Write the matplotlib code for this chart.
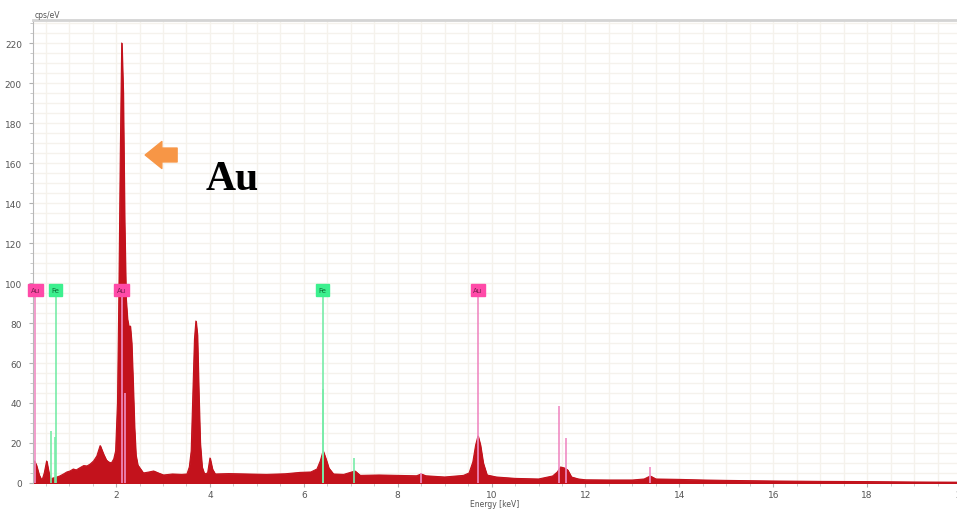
import matplotlib

matplotlib.use("Agg")
import matplotlib.pyplot as plt
from matplotlib.ticker import MultipleLocator

# EDS spectrum: energy (keV) vs intensity (cps/eV)
ENERGY = [0.23, 0.26, 0.30, 0.36, 0.42, 0.47, 0.52, 0.56, 0.60, 0.66, 0.74,
          0.80, 0.88, 0.95, 1.02, 1.09, 1.15, 1.22, 1.31, 1.38, 1.45, 1.52,
          1.59, 1.66, 1.73, 1.79, 1.84, 1.90, 1.95, 1.99, 2.03, 2.06, 2.09,
          2.12, 2.15, 2.18, 2.21, 2.24, 2.27, 2.30, 2.33, 2.36, 2.39, 2.42,
          2.46, 2.52, 2.58, 2.70, 2.80, 2.90, 3.01, 3.20, 3.40, 3.51, 3.56,
          3.60, 3.63, 3.67, 3.70, 3.73, 3.76, 3.79, 3.83, 3.88, 3.95, 4.00,
          4.05, 4.11, 4.40, 4.80, 5.20, 5.60, 5.92, 6.15, 6.28, 6.35, 6.41,
          6.47, 6.53, 6.63, 6.85, 7.02, 7.09, 7.20, 7.60, 8.00, 8.40, 8.50,
          8.60, 9.00, 9.40, 9.52, 9.60, 9.66, 9.71, 9.76, 9.82, 9.90, 10.10,
          10.50, 11.00, 11.30, 11.40, 11.47, 11.55, 11.62, 11.70, 11.85, 12.00,
          12.50, 13.00, 13.25, 13.38, 13.50, 14.00, 14.50, 15.00, 16.00, 17.00,
          18.00, 19.00, 20.00]
COUNTS = [10.5, 11.0, 9.0, 4.0, 1.2, 5.0, 11.0, 6.0, 2.0, 2.5, 3.0,
          3.5, 4.5, 5.5, 6.0, 7.0, 6.5, 7.5, 8.7, 8.5, 9.5, 11.0,
          13.5, 18.7, 14.5, 11.5, 10.5, 10.0, 12.0, 16.0, 40.0, 95.0, 165.0,
          220.0, 195.0, 130.0, 92.0, 82.0, 78.0, 78.5, 70.0, 50.0, 28.0, 14.0,
          9.0, 7.0, 5.0, 5.5, 6.0, 5.0, 4.0, 4.5, 4.3, 4.5, 8.0,
          16.0, 40.0, 72.0, 81.0, 74.0, 45.0, 20.0, 8.0, 4.5, 5.0, 12.5,
          7.0, 4.5, 4.7, 4.5, 4.3, 4.6, 5.3, 5.5, 7.0, 11.0, 16.0,
          12.0, 7.5, 4.5, 4.3, 5.5, 6.0, 3.8, 4.0, 3.8, 3.6, 4.5,
          3.6, 3.0, 3.8, 5.0, 10.5, 19.0, 23.5, 19.0, 10.0, 4.0, 3.0,
          2.3, 2.0, 3.5, 5.5, 8.0, 7.5, 6.5, 3.0, 2.0, 1.6,
          1.5, 1.5, 2.0, 3.5, 2.0, 1.8, 1.5, 1.3, 1.0, 0.8,
          0.7, 0.5, 0.4]

# element marker lines (keV, top in cps/eV, element)
LABEL_E = [0.28, 0.71, 2.12, 6.40, 9.71]
LABEL_EL = ["Au", "Fe", "Au", "Fe", "Au"]
LABEL_TOP = 93.5
MINOR_E = [0.62, 0.70, 2.20, 6.40, 7.06, 8.50, 11.44, 11.58, 13.38]
MINOR_TOP = [26, 23, 45, 47, 12.5, 5, 38.5, 22.5, 8]
MINOR_EL = ["Fe", "Fe", "Au", "Fe", "Fe", "Au", "Au", "Au", "Au"]

RED = "#c3121c"
PINK_BOX = "#ff4aa8"
PINK_LINE = "#f08cc4"
GREEN_BOX = "#3cf08e"
GREEN_LINE = "#78eca8"
ORANGE = "#f79646"
GRID = "#f5f2ec"
TXT = "#555555"

fig = plt.figure(figsize=(9.57, 5.10), dpi=100)
ax = fig.add_axes([33 / 957, 26 / 510, 928 / 957, 463 / 510])
ax.set_xlim(0.23, 20)
ax.set_ylim(0, 231.5)

ax.xaxis.set_major_locator(MultipleLocator(2))
ax.xaxis.set_minor_locator(MultipleLocator(0.5))
ax.yaxis.set_major_locator(MultipleLocator(20))
ax.yaxis.set_minor_locator(MultipleLocator(5))
ax.grid(which="both", color=GRID, lw=1.0, zorder=0)
ax.set_axisbelow(True)

ax.fill_between(ENERGY, COUNTS, 0, color=RED, lw=0.8, zorder=2)
ax.plot(ENERGY, COUNTS, color=RED, lw=0.8, zorder=2)

colors = {"Au": (PINK_BOX, PINK_LINE, "#7a1f4f"), "Fe": (GREEN_BOX, GREEN_LINE, "#0b6b35")}
for e, top, el in zip(MINOR_E, MINOR_TOP, MINOR_EL):
    ax.vlines(e, 0, top, color=colors[el][1], lw=1.2, zorder=3)
for e, el in zip(LABEL_E, LABEL_EL):
    box, line, tc = colors[el]
    ax.vlines(e, 0, LABEL_TOP, color=line, lw=1.2, zorder=3)
    ax.text(e, 96.5, el, ha="center", va="center", fontsize=5, color=tc, zorder=4,
            bbox=dict(boxstyle="square,pad=0.4", fc=box, ec=box))

# orange arrow + annotation
ax.annotate("", xy=(2.62, 164), xytext=(3.30, 164),
            arrowprops=dict(arrowstyle="simple,head_length=0.6,head_width=0.97,tail_width=0.5",
                            color=ORANGE, shrinkA=0, shrinkB=0, mutation_scale=20), zorder=5)
ax.text(4.47, 147, "Au", ha="center", va="baseline", fontsize=30, fontweight="bold",
        family="Liberation Serif", color="black", zorder=5)

for s in ["right", "bottom"]:
    ax.spines[s].set_visible(False)
ax.spines["top"].set_color("#d4d4d4")
ax.spines["top"].set_linewidth(2)
ax.spines["left"].set_color("#b8b8b8")
ax.tick_params(axis="both", which="major", labelsize=6.5, labelcolor=TXT, color="#b0b0b0",
               length=3, width=0.8)
ax.tick_params(axis="both", which="minor", color="#c0c0c0", length=2, width=0.6)
ax.tick_params(axis="x", pad=2)
ax.tick_params(axis="y", pad=5)

fig.text(35 / 957, 1 - 16 / 510, "cps/eV", fontsize=5.5, color=TXT, va="center")
fig.text(495 / 957, 1 - 505 / 510, "Energy [keV]", fontsize=5.5, color=TXT,
         ha="center", va="center")

fig.savefig("out.png", dpi=100)
